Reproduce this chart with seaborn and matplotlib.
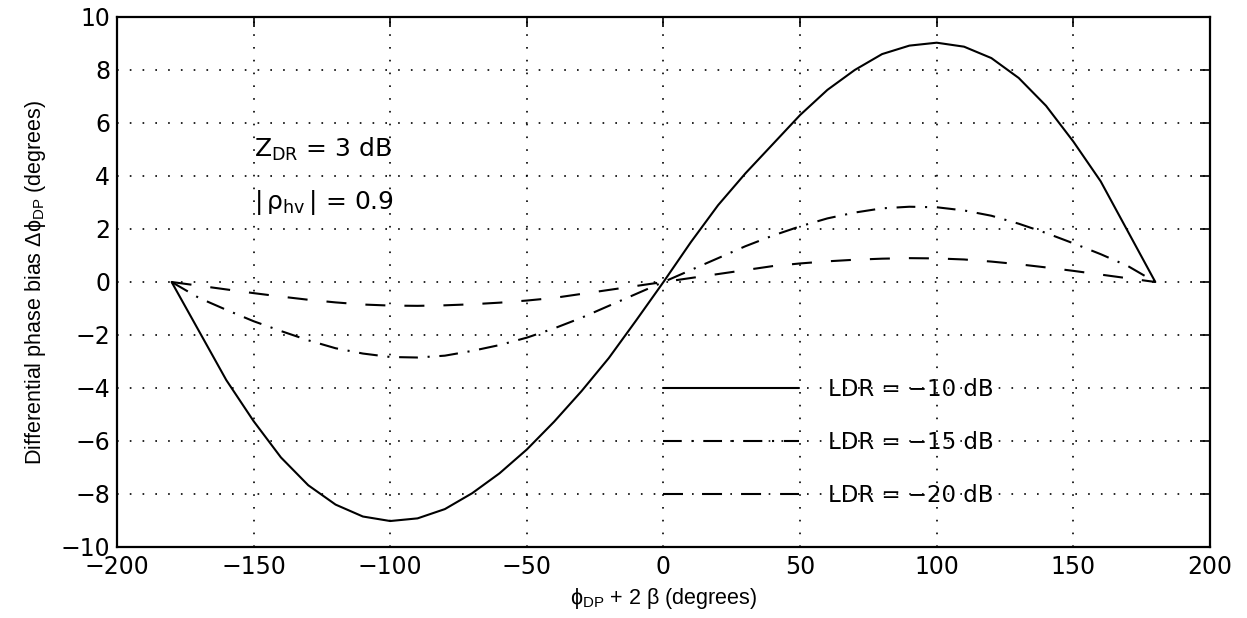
import numpy as np
import pandas as pd
import matplotlib
matplotlib.use("Agg")
import matplotlib.pyplot as plt
import seaborn as sns

# ---- data ----
phase_deg = [-180, -170, -160, -150, -140, -130, -120, -110, -100, -90, -80, -70, -60, -50, -40, -30, -20, -10,
             0, 10, 20, 30, 40, 50, 60, 70, 80, 90, 100, 110, 120, 130, 140, 150, 160, 170, 180]
bias_ldr10 = [0, -1.85, -3.7, -5.25, -6.62, -7.67, -8.4, -8.85, -9.02, -8.92, -8.57, -7.97, -7.22, -6.32, -5.27, -4.12, -2.87, -1.45,
              0, 1.5, 2.9, 4.1, 5.2, 6.3, 7.25, 8.0, 8.6, 8.92, 9.03, 8.88, 8.45, 7.7, 6.65, 5.3, 3.8, 1.9, 0]
bias_ldr15 = [0, -0.6, -1.05, -1.48, -1.85, -2.2, -2.5, -2.7, -2.83, -2.85, -2.78, -2.6, -2.38, -2.1, -1.75, -1.35, -0.9, -0.45,
              0, 0.45, 0.9, 1.35, 1.75, 2.1, 2.4, 2.62, 2.78, 2.84, 2.82, 2.7, 2.5, 2.2, 1.85, 1.46, 1.05, 0.6, 0]
bias_ldr20 = [0, -0.14, -0.28, -0.42, -0.55, -0.67, -0.77, -0.85, -0.89, -0.9, -0.88, -0.84, -0.78, -0.7, -0.6, -0.45, -0.3, -0.15,
              0, 0.15, 0.3, 0.45, 0.6, 0.7, 0.78, 0.84, 0.88, 0.9, 0.89, 0.85, 0.77, 0.67, 0.55, 0.42, 0.28, 0.14, 0]
series_labels = ["LDR = \u221210 dB", "LDR = \u221215 dB", "LDR = \u221220 dB"]
x_ticks = [-200, -150, -100, -50, 0, 50, 100, 150, 200]
y_ticks = [-10, -8, -6, -4, -2, 0, 2, 4, 6, 8, 10]

df = pd.DataFrame({
    "phase": phase_deg * 3,
    "bias": bias_ldr10 + bias_ldr15 + bias_ldr20,
    "series": [series_labels[0]] * len(phase_deg) + [series_labels[1]] * len(phase_deg) + [series_labels[2]] * len(phase_deg),
})

sns.set_style("white")
plt.rcParams["font.family"] = ["DejaVu Sans"]
plt.rcParams["mathtext.fontset"] = "dejavusans"
plt.rcParams["lines.scale_dashes"] = False
plt.rcParams["text.color"] = "black"
plt.rcParams["axes.labelcolor"] = "black"

fig = plt.figure(figsize=(12.47, 6.18), dpi=100)
ax = fig.add_axes([0.0938, 0.1149, 0.8765, 0.8576])

dash_map = {
    series_labels[0]: "",
    series_labels[1]: (13.5, 7, 1.5, 7),
    series_labels[2]: (14.4, 13.7),
}
sns.lineplot(data=df, x="phase", y="bias", hue="series", style="series",
             dashes=dash_map, palette=["black"] * 3, linewidth=1.5, ax=ax,
             legend=True, sort=False)

ax.set_xlim(-200, 200)
ax.set_ylim(-10, 10)
ax.set_xticks(x_ticks)
ax.set_yticks(y_ticks)
ax.tick_params(direction="in", length=7, width=1.2, top=True, right=True,
               labelsize=17, colors="black")
ax.tick_params(axis="x", pad=6)
ax.tick_params(axis="y", pad=5)
for s in ax.spines.values():
    s.set_visible(True)
    s.set_color("black")
    s.set_linewidth(1.6)
ax.grid(True, linestyle=(0, (1.2, 8)), color="black", linewidth=1.2)

label_font = ["Liberation Sans Narrow", "Liberation Sans", "DejaVu Sans"]
ax.set_xlabel("$\\mathregular{\u03d5_{DP}}$ + 2 \u03b2 (degrees)", fontsize=15.5,
              family=label_font, labelpad=5)
ax.set_ylabel("Differential phase bias $\\mathregular{\u0394\u03d5_{DP}}$ (degrees)", fontsize=15.5,
              family=label_font, labelpad=9)

ax.text(-150, 5, r"$\mathregular{Z_{DR}}$ = 3 dB", fontsize=18, va="center", ha="left")
ax.text(-150, 3, r"$\mathregular{|\,ρ_{hv}\,|}$ = 0.9", fontsize=18, va="center", ha="left")

leg = ax.legend(loc="upper left", bbox_to_anchor=(0.5, 0.318), frameon=False,
                fontsize=16.5, handlelength=5.9, handletextpad=1.27, labelspacing=1.3,
                borderpad=0, borderaxespad=0)
for line in leg.get_lines():
    line.set_linewidth(1.5)
for t in leg.get_texts():
    t.set_color("black")

fig.savefig("out.png", dpi=100)
